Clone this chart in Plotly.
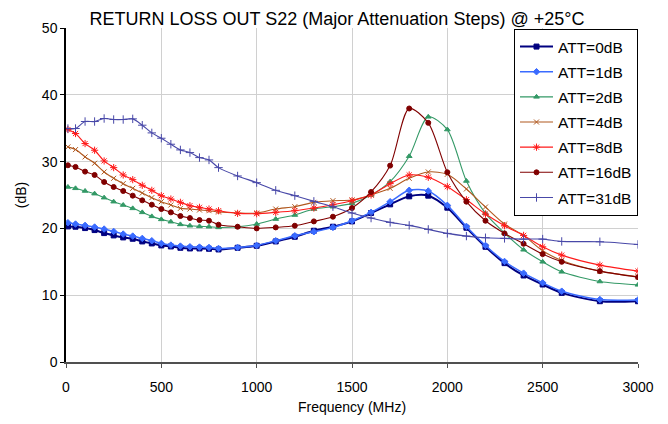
import plotly.graph_objects as go

freq_mhz = [10, 50, 100, 150, 200, 250, 300, 350, 400, 450, 500, 550, 600, 650, 700, 750, 800,
            900, 1000, 1100, 1200, 1300, 1400, 1500, 1600, 1700, 1800, 1900, 2000,
            2100, 2200, 2300, 2400, 2500, 2600, 2800, 3000]

att_0db = [20.3, 20.25, 20.05, 19.75, 19.3, 18.95, 18.65, 18.45, 18.05, 17.75, 17.45, 17.3, 17.1, 17.0, 17.0, 16.95, 16.85,
           17.1, 17.4, 18.05, 18.75, 19.65, 20.25, 21.05, 22.3, 23.6, 24.8, 24.9, 23.1,
           20.1, 17.25, 14.8, 12.95, 11.6, 10.35, 9.1, 9.1]
att_1db = [20.85, 20.65, 20.45, 20.2, 19.9, 19.55, 19.15, 18.85, 18.5, 18.15, 17.75, 17.5, 17.35, 17.25, 17.2, 17.15, 17.0,
           17.15, 17.45, 18.15, 18.9, 19.5, 20.15, 21.15, 22.4, 24.0, 25.7, 25.6, 23.45,
           20.3, 17.45, 15.05, 13.3, 11.85, 10.6, 9.35, 9.3]
att_2db = [26.2, 26.0, 25.6, 25.2, 24.6, 24.0, 23.5, 23.0, 22.4, 21.8, 21.35, 21.0, 20.6, 20.4, 20.3, 20.25, 20.15,
           20.25, 20.65, 21.4, 22.0, 22.9, 23.25, 23.75, 25.0, 27.0, 30.8, 36.7, 34.8,
           27.1, 22.25, 19.3, 16.8, 15.0, 13.5, 12.05, 11.55]
att_4db = [32.2, 31.8, 30.7, 29.75, 28.45, 27.5, 26.7, 26.0, 25.3, 24.6, 24.0, 23.5, 23.0, 22.9, 22.75, 22.65, 22.45,
           22.3, 22.3, 22.9, 23.25, 23.9, 24.15, 24.25, 25.0, 26.0, 27.5, 28.45, 28.1,
           25.9, 23.2, 20.65, 18.95, 16.65, 15.2, 13.6, 12.75]
att_8db = [34.8, 34.2, 32.7, 31.7, 30.1, 29.1, 28.0, 27.3, 26.45, 25.7, 24.9, 24.4, 23.9, 23.4, 23.15, 22.9, 22.65,
           22.25, 22.2, 22.4, 22.65, 23.05, 23.55, 24.15, 25.0, 26.7, 28.0, 27.65, 26.25,
           24.3, 22.15, 20.4, 18.95, 17.25, 16.0, 14.5, 13.6]
att_16db = [29.45, 29.2, 28.5, 28.0, 26.95, 26.2, 25.6, 24.9, 24.2, 23.55, 22.9, 22.4, 21.85, 21.55, 21.25, 21.15, 20.55,
            20.25, 20.0, 20.15, 20.4, 21.05, 21.75, 23.05, 25.45, 29.4, 37.95, 35.8, 28.4,
            24.0, 21.15, 19.25, 17.7, 16.15, 15.0, 13.6, 12.7]
att_31db = [34.95, 34.95, 36.0, 36.0, 36.45, 36.3, 36.3, 36.4, 35.45, 34.3, 33.5, 32.6, 31.75, 31.35, 30.6, 30.25, 29.1,
            27.85, 26.85, 25.7, 24.9, 24.05, 23.25, 22.3, 21.55, 20.9, 20.45, 19.85, 19.25,
            18.85, 18.6, 18.5, 18.4, 18.4, 18.05, 18.0, 17.6]

series_names = ["ATT=0dB", "ATT=1dB", "ATT=2dB", "ATT=4dB", "ATT=8dB", "ATT=16dB", "ATT=31dB"]
series_values = [att_0db, att_1db, att_2db, att_4db, att_8db, att_16db, att_31db]
colors = ["#000080", "#3A6BFF", "#339966", "#B0581E", "#FF1A1A", "#800000", "#4848A8"]
symbols = ["square", "diamond", "triangle-up", "x-thin", "asterisk", "circle", "cross-thin"]
marker_sizes = [5, 5, 5, 5, 6, 5, 6]
line_widths = [2, 1.5, 1.1, 1.1, 1.1, 1.1, 1.1]

fig = go.Figure()
for name, vals, col, sym, ms, lw in zip(series_names, series_values, colors, symbols, marker_sizes, line_widths):
    fig.add_trace(go.Scatter(
        x=freq_mhz, y=vals, name=name, mode="lines+markers", legendgroup=name,
        line=dict(color=col, width=lw, shape="spline", smoothing=0.8),
        marker=dict(symbol=sym, size=ms, color=col, line=dict(color=col, width=1)),
    ))

font_family = "Liberation Sans, Arial, sans-serif"
fig.update_layout(
    width=668, height=424,
    margin=dict(l=54, r=38, t=19, b=70),
    paper_bgcolor="white", plot_bgcolor="white",
    font=dict(family=font_family, size=14, color="black"),
    title=dict(text="RETURN LOSS OUT S22 (Major Attenuation Steps) @ +25°C",
               x=329 / 668, xanchor="center", y=1 - 4 / 424, yanchor="top",
               font=dict(size=18, family=font_family, color="black")),
    showlegend=True,
    legend=dict(x=1, xanchor="right", y=1 - 1 / 335, yanchor="top",
                bordercolor="black", borderwidth=1, bgcolor="white",
                font=dict(size=15.5, family=font_family), tracegroupgap=2,
                itemwidth=33),
    xaxis=dict(range=[0, 3000], tickvals=[0, 500, 1000, 1500, 2000, 2500, 3000],
               showgrid=True, gridcolor="#D0D0D0", gridwidth=1,
               showline=True, linecolor="#505050", linewidth=2,
               ticks="outside", ticklen=4, tickcolor="#505050", ticklabelstandoff=7,
               title=dict(text="Frequency (MHz)", font=dict(size=14), standoff=8),
               zeroline=False, mirror=False),
    yaxis=dict(range=[0, 50], tickvals=[0, 10, 20, 30, 40, 50],
               showgrid=True, gridcolor="#D0D0D0", gridwidth=1,
               showline=True, linecolor="black", linewidth=1.5,
               ticks="outside", ticklen=4, tickcolor="black",
               title=dict(text="(dB)", font=dict(size=14), standoff=12),
               zeroline=False),
)

fig.write_html("out.html")
